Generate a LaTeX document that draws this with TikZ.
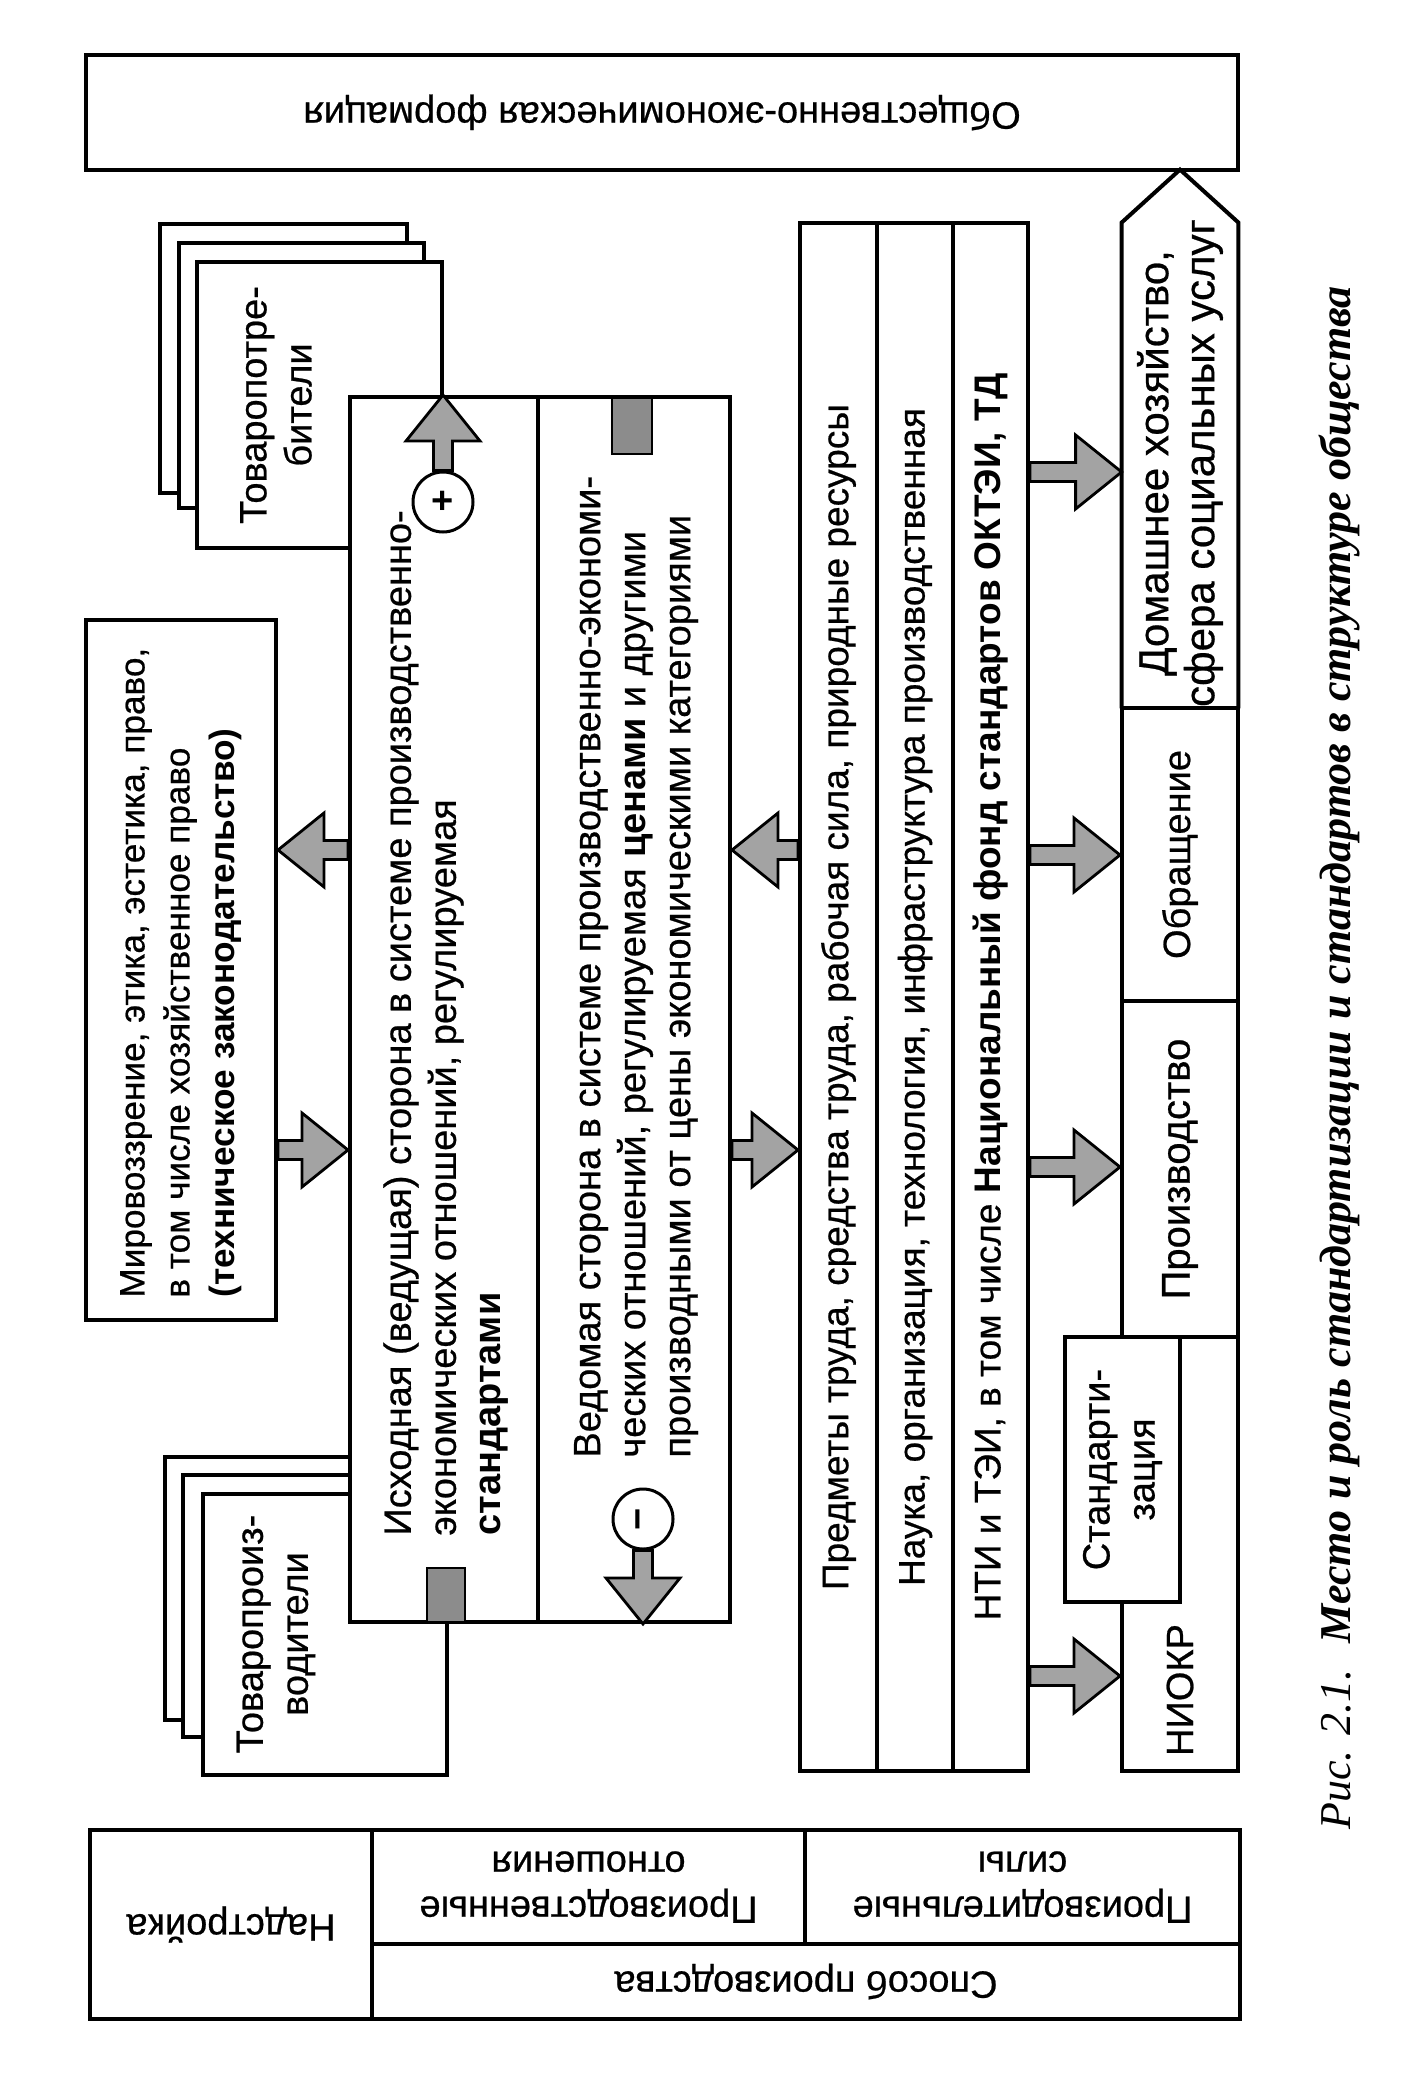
\documentclass[tikz,border=0pt]{standalone}
\usepackage{graphicx}
\usepackage{fontspec}
\setmainfont{Liberation Sans}[UprightFeatures={FakeBold=0.6}]
\newfontfamily\capfont{Liberation Serif}
\usetikzlibrary{calc,fit}
\definecolor{arrgray}{gray}{0.64}
\definecolor{sqgray}{gray}{0.55}
\newcommand\harrow[2]{%
 \filldraw[barrow] let \p1=(#1), \p2=(#2), \n1={ifthenelse(\x2>\x1,1,-1)} in
  (\x1,{\y1+4.75pt}) -- ({\x2-(\n1)*23pt},{\y1+4.75pt}) -- ({\x2-(\n1)*23pt},{\y1+18.5pt})
  -- (\x2,\y1) -- ({\x2-(\n1)*23pt},{\y1-18.5pt}) -- ({\x2-(\n1)*23pt},{\y1-4.75pt})
  -- (\x1,{\y1-4.75pt}) -- cycle;}
\newcommand\varrow[2]{%
 \filldraw[barrow] let \p1=(#1), \p2=(#2), \n1={ifthenelse(\y2>\y1,1,-1)} in
  ({\x1+4.75pt},\y1) -- ({\x1+4.75pt},{\y2-(\n1)*23pt}) -- ({\x1+18.5pt},{\y2-(\n1)*23pt})
  -- (\x1,\y2) -- ({\x1-18.5pt},{\y2-(\n1)*23pt}) -- ({\x1-4.75pt},{\y2-(\n1)*23pt})
  -- ({\x1-4.75pt},\y1) -- cycle;}
\begin{document}
\begin{tikzpicture}[x=0.5pt,y=-0.5pt,
  box/.style={draw=black, line width=2pt, fill=white, inner sep=0pt},
  cell/.style={draw=black, line width=2pt, inner sep=0pt},
  txt/.style={inner sep=0pt, font=\fontsize{19}{22.5}\selectfont, align=center},
  barrow/.style={draw=black, line width=1.4pt, fill=arrgray, line join=miter},
  shade/.style={draw=black, line width=1.4pt, fill=sqgray, inner sep=0pt},
  sign/.style={circle, draw=black, line width=1.5pt, fill=white, minimum size=30pt, inner sep=0pt, font=\bfseries\fontsize{19}{19}\selectfont}]
\useasboundingbox (0,0) rectangle (1417,2080);

% top box
\node[box, fit={(86,55) (1238,170)}] (top) {};
\node[txt, rotate=180] (topT) at (top.center) {Общественно-экономическая формация};

% consumers stack
\node[box, fit={(160,224) (407,493)}] (tpC) {};
\node[box, fit={(179,243) (424,508)}] (tpB) {};
\node[box, fit={(197,262) (442,548)}] (tpA) {};
% producers stack
\node[box, fit={(165,1457) (410,1720)}] (tvC) {};
\node[box, fit={(183,1475) (428,1737)}] (tvB) {};
\node[box, fit={(203,1494) (447,1775)}] (tvA) {};

% main box
\node[box, fit={(350,397) (538,1622)}] (ish) {};
\node[box, fit={(538,397) (730,1622)}] (ved) {};

\node[txt, rotate=90] (tpT) at (276,405) {Товаропотре-\\бители};
\node[txt, rotate=90] (tvT) at (276,1634) {Товаропроиз-\\водители};

\node[txt, rotate=90, align=left, anchor=west] (ishT) at (446,1536)
  {Исходная (ведущая) сторона в системе производственно-\\экономических отношений, регулируемая\\\textbf{стандартами}};
\node[txt, rotate=90, align=left, anchor=west] (vedT) at (636,1458)
  {Ведомая сторона в системе производственно-экономи-\\ческих отношений, регулируемая \textbf{ценами} и другими\\производными от цены экономическими категориями};

\node[shade, fit={(612,398) (652,454)}] (sqT) {};
\node[shade, fit={(427,1568) (465,1622)}] (sqB) {};

\node[sign] (plusC) at (443,502) {+};
\node[sign] (minusC) at (643,1519) {\rotatebox{90}{\textbf{−}}};
\varrow{plusC.north}{ish.north -| plusC}
\varrow{minusC.south}{ved.south -| minusC}

% world view box
\node[box, fit={(86,620) (276,1320)}] (mir) {};
\node[txt, rotate=90, align=left, anchor=west, font=\fontsize{17.6}{22.5}\selectfont] (mirT) at (181,1298)
  {Мировоззрение, этика, эстетика, право,\\в том числе хозяйственное право\\\textbf{(техническое законодательство)}};

% columns
\node[cell, fit={(800,223) (877,1771)}] (colA) {};
\node[cell, fit={(877,223) (953,1771)}] (colB) {};
\node[cell, fit={(953,223) (1028,1771)}] (colC) {};
\node[txt, rotate=90, font=\fontsize{18.5}{22}\selectfont] (colAT) at (colA.center) {Предметы труда, средства труда, рабочая сила, природные ресурсы};
\node[txt, rotate=90, font=\fontsize{18.5}{22}\selectfont] (colBT) at (colB.center) {Наука, организация, технология, инфраструктура производственная};
\node[txt, rotate=90, font=\fontsize{18.5}{22}\selectfont] (colCT) at (colC.center) {НТИ и ТЭИ, в том числе \textbf{Национальный фонд стандартов ОКТЭИ, ТД}};

% right column
\node[fit={(1122,223) (1238,708)}, inner sep=0pt] (dom) {};
\draw[cell, line join=miter] (dom.south west) -- (dom.north west) -- ($(dom.north)+(0,-53)$) -- (dom.north east) -- (dom.south east);
\node[cell, fit={(1122,708) (1238,1001)}] (obr) {};
\node[cell, fit={(1122,1001) (1238,1337)}] (prz) {};
\node[cell, fit={(1122,1337) (1238,1771)}] (nio) {};
\node[box, fit={(1065,1337) (1180,1602)}] (std) {};
\node[txt, rotate=90, font=\fontsize{21}{23}\selectfont] (domT) at (1180,463) {Домашнее хозяйство,\\сфера социальных услуг};
\node[txt, rotate=90] (obrT) at (obr.center) {Обращение};
\node[txt, rotate=90, font=\fontsize{20}{22}\selectfont] (przT) at (prz.center) {Производство};
\node[txt, rotate=90] (nioT) at (nio.center |- 0,1690) {НИОКР};
\node[txt, rotate=90] (stdT) at (std.center) {Стандарти-\\зация};

% bottom table
\node[cell, fit={(90,1830) (372,2019)}] (nad) {};
\node[cell, fit={(372,1830) (805,1944)}] (pot) {};
\node[cell, fit={(805,1830) (1240,1944)}] (psi) {};
\node[cell, fit={(372,1944) (1240,2019)}] (spo) {};
\node[txt, rotate=180] (nadT) at (nad.center) {Надстройка};
\node[txt, rotate=180] (potT) at (pot.center) {Производственные\\отношения};
\node[txt, rotate=180] (psiT) at (psi.center) {Производительные\\силы};
\node[txt, rotate=180] (spoT) at (spo.center) {Способ производства};

% block arrows
\harrow{ish.west |- 0,850}{mir.east |- 0,850}
\harrow{mir.east |- 0,1150}{ish.west |- 0,1150}
\harrow{colA.west |- 0,850}{ved.east |- 0,850}
\harrow{ved.east |- 0,1150}{colA.west |- 0,1150}
\harrow{colC.east |- 0,472}{dom.west |- 0,472}
\harrow{colC.east |- 0,855}{obr.west |- 0,855}
\harrow{colC.east |- 0,1167}{prz.west |- 0,1167}
\harrow{colC.east |- 0,1676}{nio.west |- 0,1676}

% caption
\node[rotate=90, anchor=base west, inner sep=0pt, font=\capfont\fontsize{22}{26}\selectfont] (cap) at (1350,1830)
  {\textit{Рис. 2.1.}\hspace{0.6em}\textbf{\textit{Место и роль стандартизации и стандартов в структуре общества}}};
\end{tikzpicture}
\end{document}
